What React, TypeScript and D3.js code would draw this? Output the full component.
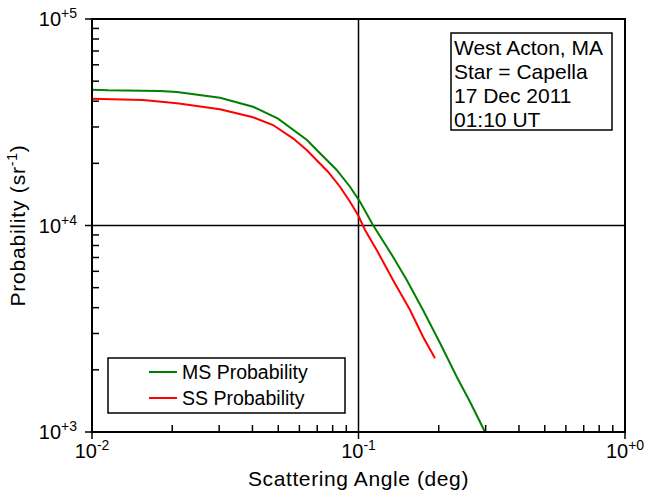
import React from "react";
import * as d3 from "d3";

const msAngle = [0.01, 0.01148, 0.01799, 0.02084, 0.03021, 0.04019, 0.04989, 0.06408, 0.06969, 0.08282, 0.09292, 0.1013, 0.1133, 0.1347, 0.1517, 0.1746, 0.2022, 0.2336, 0.262, 0.2984];
const msProb = [45460, 45160, 44800, 44310, 41590, 37600, 32900, 25940, 23210, 18570, 15410, 13040, 10060, 7062, 5445, 3898, 2698, 1852, 1402, 1000];
const ssAngle = [0.01, 0.01554, 0.02084, 0.03021, 0.04019, 0.04777, 0.05677, 0.06391, 0.07681, 0.08522, 0.09292, 0.09957, 0.1058, 0.117, 0.1347, 0.1561, 0.1746, 0.1936];
const ssProb = [41120, 40540, 39070, 36540, 33420, 30660, 26440, 23210, 18220, 15410, 13040, 11240, 9510, 7609, 5445, 3898, 2893, 2274];

const xTickExps = ["-2", "-1", "+0"];
const xTickVals = [0.01, 0.1, 1];
const yTickExps = ["+3", "+4", "+5"];
const yTickVals = [1000, 10000, 100000];
const infoLines = ["West Acton, MA", "Star = Capella", "17 Dec 2011", "01:10 UT"];
const seriesNames = ["MS Probability", "SS Probability"];
const seriesColors = ["#008000", "#ff0000"];

const W = 649, H = 493;
const L = 92, R = 625, T = 19, B = 432;
const FONT = "Arial, 'Liberation Sans', sans-serif";

export default function App() {
  const x = d3.scaleLog().domain([0.01, 1]).range([L, R]);
  const y = d3.scaleLog().domain([1000, 100000]).range([B, T]);

  const minorX: number[] = [];
  for (const d of [0.01, 0.1]) for (let k = 2; k <= 9; k++) minorX.push(d * k);
  const minorY: number[] = [];
  for (const d of [1000, 10000]) for (let k = 2; k <= 9; k++) minorY.push(d * k);

  const line = d3.line<[number, number]>().x(d => x(d[0])).y(d => y(d[1]));
  const msData = msAngle.map((a, i) => [a, msProb[i]] as [number, number]);
  const ssData = ssAngle.map((a, i) => [a, ssProb[i]] as [number, number]);

  return (
    <svg width={W} height={H} style={{ position: "absolute", left: 0, top: 0, background: "#fff" }} fontFamily={FONT}>
      <rect x={0} y={0} width={W} height={H} fill="#fff" />
      {minorX.map((v, i) => (
        <line key={"mx" + i} x1={x(v)} x2={x(v)} y1={B} y2={B - 7} stroke="#000" strokeWidth={1.5} />
      ))}
      {minorY.map((v, i) => (
        <line key={"my" + i} x1={L} x2={L + 7} y1={y(v)} y2={y(v)} stroke="#000" strokeWidth={1.5} />
      ))}
      {xTickVals.map((v, i) => (
        <line key={"Mx" + i} x1={x(v)} x2={x(v)} y1={B} y2={B + 7} stroke="#000" strokeWidth={1.5} />
      ))}
      {yTickVals.map((v, i) => (
        <line key={"My" + i} x1={L - 7} x2={L} y1={y(v)} y2={y(v)} stroke="#000" strokeWidth={1.5} />
      ))}
      <line x1={x(0.1)} x2={x(0.1)} y1={T} y2={B} stroke="#000" strokeWidth={1.5} />
      <line x1={L} x2={R} y1={y(10000)} y2={y(10000)} stroke="#000" strokeWidth={1.5} />
      <path d={line(msData) || ""} fill="none" stroke={seriesColors[0]} strokeWidth={2} />
      <path d={line(ssData) || ""} fill="none" stroke={seriesColors[1]} strokeWidth={2} />
      <rect x={L} y={T} width={R - L} height={B - T} fill="none" stroke="#000" strokeWidth={2} />
      {xTickVals.map((v, i) => (
        <text key={"xl" + i} x={x(v)} y={458} textAnchor="middle" fontSize={20} fill="#000">
          10<tspan fontSize={14} dy={-8}>{xTickExps[i]}</tspan>
        </text>
      ))}
      {yTickVals.map((v, i) => (
        <text key={"yl" + i} x={77} y={y(v) + 7} textAnchor="end" fontSize={20} fill="#000">
          10<tspan fontSize={14} dy={-8}>{yTickExps[i]}</tspan>
        </text>
      ))}
      <text x={(L + R) / 2} y={486} textAnchor="middle" fontSize={21} letterSpacing={0.6} fill="#000">
        Scattering Angle (deg)
      </text>
      <text transform={`translate(25,${(T + B) / 2}) rotate(-90)`} textAnchor="middle" fontSize={21} letterSpacing={0.8} fill="#000">
        Probability (sr<tspan fontSize={14} dy={-8}>-1</tspan><tspan dy={8}>)</tspan>
      </text>
      <rect x={451} y={33} width={161} height={97} fill="#fff" stroke="#000" strokeWidth={1.5} />
      {infoLines.map((s, i) => (
        <text key={"il" + i} x={454} y={55 + i * 24} fontSize={21} fill="#000">{s}</text>
      ))}
      <rect x={108} y={358} width={237} height={55} fill="#fff" stroke="#000" strokeWidth={1.5} />
      {seriesNames.map((s, i) => (
        <g key={"lg" + i}>
          <line x1={149} x2={177} y1={372 + i * 26} y2={372 + i * 26} stroke={seriesColors[i]} strokeWidth={2} />
          <text x={182} y={379 + i * 26} fontSize={19.5} fill="#000">{s}</text>
        </g>
      ))}
    </svg>
  );
}
